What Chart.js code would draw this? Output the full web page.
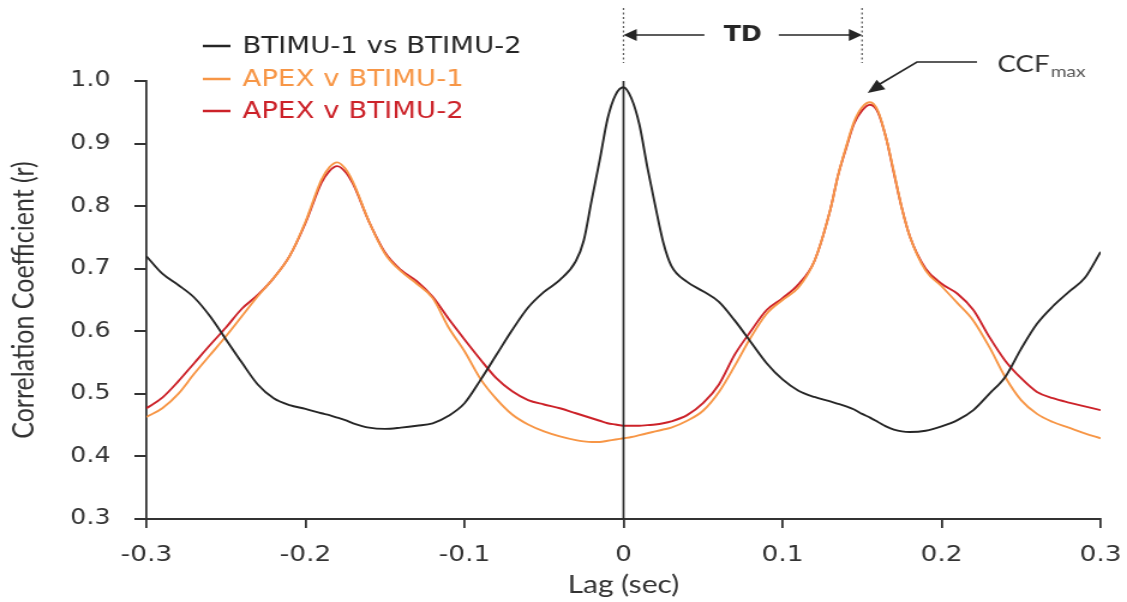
<!DOCTYPE html>
<html lang="en">
<head>
<meta charset="UTF-8">
<title>Correlation coefficient vs lag</title>
<script src="https://cdn.jsdelivr.net/npm/chart.js"></script>
<style>
    body { margin: 0; background: #fff; }
    #ccf { display: block; }
</style>
</head>
<body>
<!-- drawn narrower and stretched by CSS, like the source figure -->
<canvas id="ccf" width="939" height="602" style="width:1127px;height:602px"></canvas>
<script>
// lag (sec), a bit denser around the peaks
const lags = [
    -0.30, -0.29, -0.28, -0.27, -0.26, -0.25, -0.24, -0.23, -0.22, -0.21, -0.20, -0.19,
    -0.185, -0.18, -0.175, -0.17,
    -0.16, -0.15, -0.14, -0.13, -0.12, -0.11, -0.10, -0.09, -0.08, -0.07, -0.06, -0.05, -0.04, -0.03,
    -0.025, -0.02, -0.015, -0.01, -0.005, 0, 0.005, 0.01, 0.015, 0.02, 0.025, 0.03,
    0.04, 0.05, 0.06, 0.07, 0.08, 0.09, 0.10, 0.11, 0.12, 0.13,
    0.135, 0.14, 0.145, 0.15, 0.155, 0.16, 0.165, 0.17, 0.175, 0.18,
    0.19, 0.20, 0.21, 0.22, 0.23, 0.24, 0.25, 0.26, 0.27, 0.28, 0.29, 0.30
];

const btimu1vs2 = [
    0.720, 0.692, 0.674, 0.654, 0.624, 0.587, 0.550, 0.515, 0.493, 0.482, 0.476, 0.469,
    0.466, 0.462, 0.458, 0.453,
    0.446, 0.444, 0.446, 0.449, 0.453, 0.465, 0.485, 0.522, 0.562, 0.602, 0.638, 0.663, 0.682, 0.712,
    0.745, 0.810, 0.873, 0.940, 0.978, 0.990, 0.972, 0.930, 0.862, 0.800, 0.742, 0.705,
    0.679, 0.664, 0.647, 0.617, 0.583, 0.549, 0.523, 0.505, 0.495, 0.488,
    0.484, 0.480, 0.475, 0.468, 0.462, 0.455, 0.448, 0.443, 0.440, 0.439,
    0.441, 0.448, 0.458, 0.474, 0.500, 0.527, 0.572, 0.612, 0.640, 0.663, 0.685, 0.727
];

const apexVsBtimu1 = [
    0.463, 0.477, 0.500, 0.532, 0.562, 0.592, 0.624, 0.656, 0.685, 0.720, 0.775, 0.842,
    0.862, 0.870, 0.860, 0.838,
    0.775, 0.724, 0.696, 0.676, 0.653, 0.606, 0.568, 0.524, 0.492, 0.467, 0.451, 0.440, 0.432, 0.426,
    0.424, 0.423, 0.423, 0.425, 0.427, 0.429, 0.431, 0.434, 0.437, 0.440, 0.443, 0.446,
    0.457, 0.473, 0.503, 0.545, 0.590, 0.628, 0.650, 0.670, 0.712, 0.794,
    0.850, 0.895, 0.935, 0.958, 0.966, 0.952, 0.910, 0.855, 0.797, 0.752,
    0.697, 0.672, 0.645, 0.617, 0.575, 0.527, 0.490, 0.468, 0.455, 0.446, 0.437, 0.429
];

const apexVsBtimu2 = [
    0.477, 0.494, 0.520, 0.549, 0.578, 0.606, 0.636, 0.658, 0.685, 0.720, 0.773, 0.837,
    0.856, 0.864, 0.855, 0.835,
    0.775, 0.726, 0.698, 0.680, 0.655, 0.620, 0.587, 0.555, 0.525, 0.504, 0.490, 0.483, 0.477, 0.469,
    0.465, 0.461, 0.457, 0.453, 0.451, 0.449, 0.449, 0.449, 0.450, 0.451, 0.453, 0.456,
    0.466, 0.485, 0.515, 0.563, 0.600, 0.634, 0.653, 0.675, 0.712, 0.794,
    0.850, 0.893, 0.932, 0.953, 0.962, 0.950, 0.910, 0.853, 0.797, 0.752,
    0.700, 0.676, 0.660, 0.634, 0.591, 0.553, 0.525, 0.503, 0.493, 0.486, 0.480, 0.474
];

const seriesNames = ['BTIMU-1 vs BTIMU-2', 'APEX v BTIMU-1', 'APEX v BTIMU-2'];
const seriesColors = ['#262626', '#f79646', '#cc2229'];
const xTicks = [-0.3, -0.2, -0.1, 0, 0.1, 0.2, 0.3];
const yTicks = [0.3, 0.4, 0.5, 0.6, 0.7, 0.8, 0.9, 1.0];
const timeDelay = 0.15;      // TD between the two peaks
const ccfMaxLag = 0.1535;    // where the CCFmax arrow points

const axisColor = '#333';

function toPoints(values) {
    return lags.map((lag, i) => ({ x: lag, y: values[i] }));
}

function arrowHead(ctx, tipX, tipY, fromX, fromY, len, half) {
    const a = Math.atan2(tipY - fromY, tipX - fromX);
    const bx = tipX - len * Math.cos(a), by = tipY - len * Math.sin(a);
    ctx.beginPath();
    ctx.moveTo(tipX, tipY);
    ctx.lineTo(bx + half * Math.sin(a), by - half * Math.cos(a));
    ctx.lineTo(bx - half * Math.sin(a), by + half * Math.cos(a));
    ctx.closePath();
    ctx.fill();
}

function seg(ctx, x1, y1, x2, y2) {
    ctx.beginPath();
    ctx.moveTo(x1, y1);
    ctx.lineTo(x2, y2);
    ctx.stroke();
}

// legend in the top left corner
const legendPlugin = {
    id: 'cornerLegend',
    afterDraw(chart) {
        const ctx = chart.ctx;
        const rows = [46, 79, 111];
        ctx.save();
        ctx.font = '23px "DejaVu Sans"';
        ctx.textBaseline = 'middle';
        ctx.lineWidth = 2.5;
        chart.data.datasets.forEach((ds, i) => {
            ctx.strokeStyle = ds.borderColor;
            ctx.fillStyle = ds.borderColor;
            seg(ctx, 169, rows[i], 192, rows[i]);
            ctx.fillText(ds.label, 202, rows[i] + 1);
        });
        ctx.restore();
    }
};

// zero-lag line, TD marker and CCFmax arrow
const notesPlugin = {
    id: 'notes',
    afterDatasetsDraw(chart) {
        const { ctx, scales: { x, y } } = chart;
        const x0 = x.getPixelForValue(0);
        const x1 = x.getPixelForValue(timeDelay);
        ctx.save();

        ctx.strokeStyle = '#262626';
        ctx.lineWidth = 1.7;
        seg(ctx, x0, y.getPixelForValue(1.0), x0, y.getPixelForValue(0.3));

        ctx.strokeStyle = '#555';
        ctx.lineWidth = 1.2;
        ctx.setLineDash([2, 2.5]);
        seg(ctx, x0, 8, x0, 63);
        seg(ctx, x1, 8, x1, 63);
        ctx.setLineDash([]);

        const mid = (x0 + x1) / 2, ay = 35;
        ctx.strokeStyle = '#262626';
        ctx.fillStyle = '#262626';
        ctx.lineWidth = 1.5;
        seg(ctx, x0 + 6, ay, mid - 32, ay);
        arrowHead(ctx, x0, ay, x0 + 20, ay, 11, 6);
        seg(ctx, mid + 30, ay, x1 - 6, ay);
        arrowHead(ctx, x1, ay, x1 - 20, ay, 11, 6);
        ctx.font = 'bold 21px "DejaVu Sans"';
        ctx.textAlign = 'center';
        ctx.textBaseline = 'middle';
        ctx.fillText('TD', mid, ay + 1);

        const tipX = x.getPixelForValue(ccfMaxLag), tipY = 93;
        const elbowX = 764, elbowY = 62;
        ctx.lineWidth = 1.6;
        ctx.beginPath();
        ctx.moveTo(814, elbowY);
        ctx.lineTo(elbowX, elbowY);
        ctx.lineTo(tipX + 6, tipY - 6);
        ctx.stroke();
        arrowHead(ctx, tipX, tipY, elbowX, elbowY, 14, 6);

        ctx.fillStyle = '#333';
        ctx.textAlign = 'left';
        ctx.textBaseline = 'alphabetic';
        ctx.font = '23px Lato';
        ctx.fillText('CCF', 831, 72);
        const w = ctx.measureText('CCF').width;
        ctx.font = '16px Lato';
        ctx.fillStyle = '#555';
        ctx.fillText('max', 831 + w + 1, 77);
        ctx.restore();
    }
};

new Chart(document.getElementById('ccf'), {
    type: 'line',
    data: {
        datasets: [
            { label: seriesNames[0], data: toPoints(btimu1vs2), borderColor: seriesColors[0] },
            { label: seriesNames[1], data: toPoints(apexVsBtimu1), borderColor: seriesColors[1] },
            { label: seriesNames[2], data: toPoints(apexVsBtimu2), borderColor: seriesColors[2] }
        ].map(ds => Object.assign(ds, {
            borderWidth: 1.9,
            pointRadius: 0,
            fill: false,
            cubicInterpolationMode: 'monotone'
        }))
    },
    options: {
        responsive: false,
        animation: false,
        devicePixelRatio: 1,
        layout: { padding: { top: 81, right: 22, left: 0, bottom: 0 } },
        plugins: {
            legend: { display: false },
            tooltip: { enabled: false }
        },
        scales: {
            x: {
                type: 'linear',
                min: -0.3,
                max: 0.3,
                afterBuildTicks: s => { s.ticks = xTicks.map(v => ({ value: v })); },
                afterFit: s => { s.height = 83; s.paddingLeft = 0; s.paddingRight = 0; },
                ticks: {
                    callback: v => (v === 0 ? '0' : v.toFixed(1)),
                    font: { family: 'DejaVu Sans', size: 22 },
                    color: axisColor,
                    padding: 14,
                    maxRotation: 0
                },
                grid: { drawOnChartArea: false, drawTicks: true, tickLength: 9, color: axisColor, lineWidth: 1.8 },
                border: { display: true, color: axisColor, width: 2 },
                title: {
                    display: true,
                    text: 'Lag (sec)',
                    font: { family: 'Lato', size: 25 },
                    color: axisColor,
                    padding: { top: 0, bottom: 2 }
                }
            },
            y: {
                min: 0.3,
                max: 1.0,
                afterBuildTicks: s => { s.ticks = yTicks.map(v => ({ value: v })); },
                afterFit: s => { s.width = 122; s.paddingTop = 0; s.paddingBottom = 0; },
                ticks: {
                    callback: v => v.toFixed(1),
                    font: { family: 'DejaVu Sans', size: 21 },
                    color: axisColor,
                    padding: 20
                },
                grid: { drawOnChartArea: false, drawTicks: true, tickLength: 10, color: axisColor, lineWidth: 2 },
                border: { display: true, color: axisColor, width: 1.8 },
                title: {
                    display: true,
                    text: 'Correlation Coefficient (r)',
                    font: { family: 'Lato', size: 25 },
                    color: axisColor,
                    padding: { top: 5, bottom: 0 }
                }
            }
        }
    },
    plugins: [legendPlugin, notesPlugin]
});
</script>
</body>
</html>
